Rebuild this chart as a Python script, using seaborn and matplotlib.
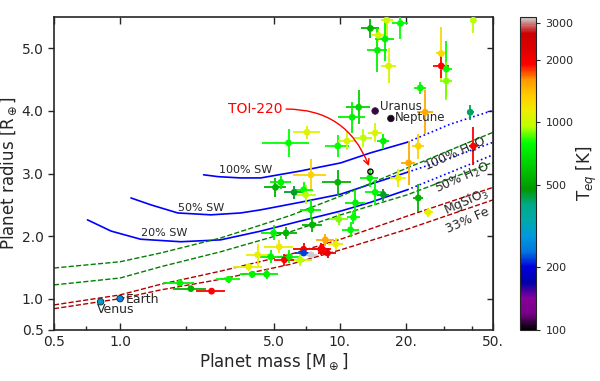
import matplotlib
matplotlib.use('Agg')
import matplotlib.pyplot as plt
import seaborn as sns
import pandas as pd
from matplotlib.colors import LogNorm
from matplotlib.ticker import FixedLocator, NullFormatter

# Known planets: mass [Earth], radius [Earth], errors, Teq [K]
mass = [13.8, 15.0, 16.1, 18.9, 14.85, 16.7, 16.4, 29.0, 29.0, 30.6, 30.6, 23.3, 24.5, 39.3,
        12.2, 11.4, 40.6, 7.1, 9.8, 5.85, 10.8, 12.8, 14.5, 15.8, 22.8, 20.6, 18.5, 40.6,
        13.7, 14.5, 15.8, 11.8, 22.8, 25.3, 11.2, 7.4, 9.8, 5.1, 5.4, 6.2, 6.85, 7.0, 7.4,
        9.9, 7.5, 5.0, 5.7, 5.3, 8.6, 8.2, 9.6, 6.85, 8.35, 8.8, 11.55, 6.6, 6.85, 7.4,
        1.87, 2.10, 2.61, 3.12, 4.0, 4.65, 3.85, 4.23, 4.85, 5.6, 5.9]
mass_err = [1.3, 1.0, 1.6, 1.6, 1.5, 1.3, 1.0, 1.5, 2.5, 2.0, 2.0, 1.5, 2.0, 1.5,
            1.5, 1.6, 0.5, 1.0, 1.2, 1.4, 1.0, 1.2, 1.0, 1.0, 1.5, 1.5, 1.5, 2.0,
            1.3, 1.5, 1.0, 1.2, 1.2, 1.2, 1.0, 1.3, 1.5, 0.6, 0.6, 0.6, 0.7, 0.8, 0.8,
            1.0, 0.8, 0.6, 0.7, 0.8, 0.8, 0.8, 0.8, 0.7, 0.8, 0.8, 0.8, 0.9, 0.6, 0.6,
            0.3, 0.35, 0.4, 0.4, 0.5, 0.6, 0.6, 0.5, 0.5, 0.6, 0.6]
radius = [5.32, 5.21, 5.15, 5.40, 4.97, 4.72, 5.45, 4.92, 4.72, 4.67, 4.48, 4.37, 3.98, 3.98,
          4.06, 3.90, 5.45, 3.66, 3.44, 3.49, 3.52, 3.57, 3.65, 3.52, 3.44, 3.17, 2.93, 3.44,
          2.93, 2.70, 2.66, 2.53, 2.61, 2.38, 2.10, 2.98, 2.86, 2.78, 2.86, 2.70, 2.74, 2.66, 2.42,
          2.27, 2.18, 2.05, 2.05, 1.83, 1.94, 1.79, 1.87, 1.79, 1.79, 1.73, 2.30, 1.62, 1.73, 1.70,
          1.25, 1.16, 1.12, 1.31, 1.39, 1.39, 1.51, 1.70, 1.67, 1.62, 1.67]
radius_err = [0.15, 0.10, 0.35, 0.25, 0.35, 0.28, 0.30, 0.42, 0.20, 0.45, 0.30, 0.10, 0.35, 0.12,
              0.27, 0.25, 0.20, 0.10, 0.18, 0.22, 0.15, 0.15, 0.15, 0.12, 0.20, 0.35, 0.15, 0.30,
              0.15, 0.20, 0.10, 0.20, 0.22, 0.07, 0.12, 0.25, 0.20, 0.15, 0.10, 0.10, 0.12, 0.15, 0.15,
              0.10, 0.12, 0.12, 0.10, 0.10, 0.10, 0.10, 0.10, 0.10, 0.08, 0.08, 0.10, 0.10, 0.05, 0.05,
              0.04, 0.04, 0.05, 0.06, 0.06, 0.08, 0.06, 0.17, 0.10, 0.10, 0.10]
teq = [550, 1050, 750, 800, 750, 1050, 1000, 1250, 1900, 800, 900, 780, 1500, 420,
       650, 750, 950, 1080, 800, 800, 1050, 950, 1050, 750, 1300, 1500, 1100, 1900,
       750, 780, 450, 750, 550, 1100, 780, 1300, 550, 550, 750, 450, 800, 950, 750,
       900, 550, 750, 550, 1150, 1500, 2000, 1100, 2000, 1900, 2100, 800, 950, 220, 3200,
       750, 550, 1900, 800, 750, 750, 1100, 1100, 750, 1900, 750]

# Solar system planets
ss_names = ['Venus', 'Earth', 'Uranus', 'Neptune']
ss_mass = [0.815, 1.0, 14.5, 17.1]
ss_radius = [0.95, 1.0, 4.0, 3.88]
ss_teq = [300, 255, 110, 105]

# TOI-220 b
toi_mass = 13.8
toi_radius = 3.03

# Composition curves, steam-world curves solid then dotted
sw100_mass = [2.40, 2.8, 3.54, 4.37, 6.6, 10.1, 13.8, 20.3]
sw100_radius = [2.98, 2.95, 2.93, 2.93, 3.04, 3.17, 3.33, 3.50]
sw100_dot_mass = [20.3, 31.9, 50.0]
sw100_dot_radius = [3.50, 3.79, 4.01]
sw50_mass = [1.12, 1.38, 1.83, 2.59, 3.54, 4.37, 6.6, 10.1, 13.8, 20.3]
sw50_radius = [2.61, 2.50, 2.37, 2.34, 2.37, 2.42, 2.54, 2.67, 2.83, 3.02]
sw50_dot_mass = [20.3, 31.9, 50.0]
sw50_dot_radius = [3.02, 3.25, 3.50]
sw20_mass = [0.71, 0.91, 1.24, 1.89, 2.87, 4.37, 6.6, 10.1, 13.8, 20.3]
sw20_radius = [2.26, 2.08, 1.95, 1.91, 1.94, 2.08, 2.24, 2.40, 2.54, 2.74]
sw20_dot_mass = [20.3, 31.9, 50.0]
sw20_dot_radius = [2.74, 3.02, 3.30]

curve_mass = [0.5, 1.0, 1.53, 2.87, 5.97, 10.1, 20.3, 50.0]
h2o100_radius = [1.49, 1.59, 1.73, 1.97, 2.33, 2.64, 3.09, 3.66]
h2o50_radius = [1.22, 1.33, 1.51, 1.75, 2.07, 2.34, 2.66, 3.18]
mgsio3_radius = [0.90, 1.06, 1.23, 1.44, 1.71, 1.95, 2.32, 2.78]
fe33_radius = [0.84, 1.00, 1.14, 1.31, 1.55, 1.78, 2.11, 2.58]

df = pd.DataFrame({'mass': mass, 'radius': radius, 'teq': teq})

sns.set_style('ticks')
plt.rcParams['font.family'] = ['DejaVu Sans']

cmap = plt.get_cmap('nipy_spectral')
norm = LogNorm(vmin=100, vmax=3200)

fig = plt.figure(figsize=(6, 3.81), dpi=100)
ax = fig.add_axes([0.09, 0.134, 0.732, 0.821])
cax = fig.add_axes([0.867, 0.134, 0.027, 0.821])

# composition curves
ax.plot(sw100_mass, sw100_radius, color='blue', lw=1.2)
ax.plot(sw100_dot_mass, sw100_dot_radius, color='blue', lw=1.2, ls=':')
ax.plot(sw50_mass, sw50_radius, color='blue', lw=1.2)
ax.plot(sw50_dot_mass, sw50_dot_radius, color='blue', lw=1.2, ls=':')
ax.plot(sw20_mass, sw20_radius, color='blue', lw=1.2)
ax.plot(sw20_dot_mass, sw20_dot_radius, color='blue', lw=1.2, ls=':')
ax.plot(curve_mass, h2o100_radius, color='green', lw=1, ls='--')
ax.plot(curve_mass, h2o50_radius, color='green', lw=1, ls='--')
ax.plot(curve_mass, mgsio3_radius, color='#b00000', lw=1, ls='--')
ax.plot(curve_mass, fe33_radius, color='#b00000', lw=1, ls='--')

# error bars coloured by Teq
for m, dm, r, dr, t in zip(mass, mass_err, radius, radius_err, teq):
    ax.errorbar(m, r, xerr=dm, yerr=dr, fmt='none', ecolor=cmap(norm(t)), elinewidth=1.3, zorder=3)

sns.scatterplot(data=df, x='mass', y='radius', hue='teq', palette='nipy_spectral', hue_norm=norm,
                legend=False, s=24, edgecolor='none', zorder=4, ax=ax)

# solar system
ax.scatter(ss_mass, ss_radius, c=[cmap(norm(t)) for t in ss_teq], s=22, edgecolors='#222222',
           linewidths=0.6, zorder=5)
ax.text(1.06, 0.99, 'Earth', fontsize=9, ha='left', va='center')
ax.text(0.78, 0.82, 'Venus', fontsize=9, ha='left', va='center')
ax.text(15.3, 4.07, 'Uranus', fontsize=8.5, ha='left', va='center')
ax.text(17.9, 3.89, 'Neptune', fontsize=8.5, ha='left', va='center')

# TOI-220 b
ax.scatter([toi_mass], [toi_radius], s=14, facecolors='none', edgecolors='black', linewidths=1, zorder=6)
ax.annotate('TOI-220', xy=(toi_mass * 0.985, toi_radius + 0.09), xytext=(4.14, 4.03), color='red',
            fontsize=10, ha='center', va='center',
            arrowprops=dict(arrowstyle='->', color='red', lw=1, relpos=(1, 0.5),
                            connectionstyle='arc3,rad=-0.35', shrinkA=0, shrinkB=0))

# curve labels
ax.text(3.73, 3.06, '100% SW', fontsize=8, ha='center', va='center')
ax.text(2.33, 2.45, '50% SW', fontsize=8, ha='center', va='center')
ax.text(1.58, 2.05, '20% SW', fontsize=8, ha='center', va='center')
ax.text(33.6, 3.31, '100% H$_2$O', fontsize=9, ha='center', va='center', rotation=24)
ax.text(36.1, 2.92, '50% H$_2$O', fontsize=9, ha='center', va='center', rotation=24)
ax.text(37.7, 2.55, 'MgSiO$_3$', fontsize=9, ha='center', va='center', rotation=24)
ax.text(38.2, 2.25, '33% Fe', fontsize=9, ha='center', va='center', rotation=24)

# axes
ax.set_xscale('log')
ax.set_xlim(0.5, 50)
ax.set_ylim(0.5, 5.5)
ax.set_xticks([0.5, 1, 5, 10, 20, 50])
ax.set_xticklabels(['0.5', '1.0', '5.0', '10.', '20.', '50.'])
ax.xaxis.set_minor_locator(FixedLocator([0.7, 2, 3, 7, 30, 40]))
ax.xaxis.set_minor_formatter(NullFormatter())
ax.set_yticks([0.5, 1, 2, 3, 4, 5])
ax.set_yticklabels(['0.5', '1.0', '2.0', '3.0', '4.0', '5.0'])
ax.tick_params(axis='x', which='major', direction='in', top=True, length=5, width=1, labelsize=10)
ax.tick_params(axis='x', which='minor', direction='in', top=False, length=3, width=1)
ax.tick_params(axis='y', direction='out', right=False, length=4, width=1, labelsize=10)
sec = ax.secondary_yaxis('right')
sec.set_yticks([1, 2, 3, 4, 5])
sec.set_yticklabels([])
sec.tick_params(direction='in', length=4, width=1)
for s in ax.spines.values():
    s.set_linewidth(1.2)
ax.set_xlabel(r'Planet mass [M$_\oplus$]', fontsize=12, labelpad=2)
ax.set_ylabel(r'Planet radius [R$_\oplus$]', fontsize=12, labelpad=2)

# colour bar
sm = plt.cm.ScalarMappable(norm=norm, cmap=cmap)
cb = fig.colorbar(sm, cax=cax)
cb.set_ticks([100, 200, 500, 1000, 2000, 3000])
cb.set_ticklabels(['100', '200', '500', '1000', '2000', '3000'])
cb.ax.minorticks_off()
cb.ax.tick_params(labelsize=8, length=3)
cb.set_label(r'T$_{eq}$ [K]', fontsize=12)
cb.ax.yaxis.set_label_coords(3.4, 0.5)

plt.savefig('out.png', dpi=100)
plt.close('all')
